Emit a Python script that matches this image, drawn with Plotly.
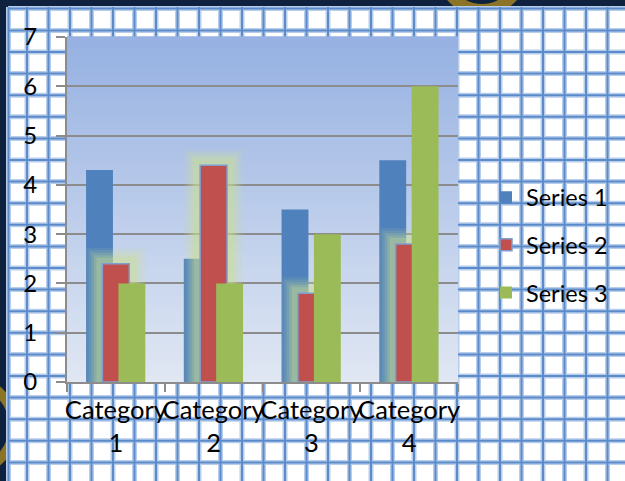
import plotly.graph_objects as go

# chart data
categories = ["Category<br>1", "Category<br>2", "Category<br>3", "Category<br>4"]
series_names = ["Series 1", "Series 2", "Series 3"]
series1 = [4.3, 2.5, 3.5, 4.5]
series2 = [2.4, 4.4, 1.8, 2.8]
series3 = [2.0, 2.0, 3.0, 6.0]
y_ticks = [0, 1, 2, 3, 4, 5, 6, 7]

W, H = 625, 481
ML, MR, MT, MB = 67, 167, 37, 99
PW, PH = W - ML - MR, H - MT - MB


def px(x):
    return (x - ML) / PW


def py(y):
    return (H - MB - y) / PH


NAVY = "#0e2240"
GOLD = "#8b7426"
FONT = "Lato, Calibri, sans-serif"

fig = go.Figure()

shapes = []
# gold rings peeking out at the border
shapes.append(dict(type="circle", xref="paper", yref="paper",
                   x0=px(442), x1=px(522), y0=py(10), y1=py(-70),
                   line=dict(color=GOLD, width=12), layer="below"))
shapes.append(dict(type="circle", xref="paper", yref="paper",
                   x0=px(-80), x1=px(14), y0=py(472), y1=py(380),
                   line=dict(color=GOLD, width=10), layer="below"))
# grid paper
shapes.append(dict(type="rect", xref="paper", yref="paper",
                   x0=px(8), x1=px(W + 5), y0=py(7), y1=py(H + 5),
                   fillcolor="white", line=dict(width=0), layer="below"))
vx = [8.5] + [27 + 21.5 * k for k in range(28)]
hy = [8.5] + [30.4 + 21.6 * k for k in range(22)]
for color, width in [("#b8cdea", 5), ("#5b8bca", 2)]:
    for x in vx:
        shapes.append(dict(type="line", xref="paper", yref="paper",
                           x0=px(x), x1=px(x), y0=py(7), y1=py(H + 5),
                           line=dict(color=color, width=width), layer="below"))
    for y in hy:
        shapes.append(dict(type="line", xref="paper", yref="paper",
                           x0=px(8), x1=px(W + 5), y0=py(y), y1=py(y),
                           line=dict(color=color, width=width), layer="below"))

# plot area gradient
top_c = (150, 177, 226)
bot_c = (224, 231, 243)
N = 60
for i in range(N):
    t = i / (N - 1)
    c = tuple(round(bot_c[k] + (top_c[k] - bot_c[k]) * t) for k in range(3))
    shapes.append(dict(type="rect", xref="paper", yref="paper",
                       x0=0, x1=1, y0=i / N, y1=(i + 1) / N + 0.002,
                       fillcolor="rgb(%d,%d,%d)" % c, line=dict(width=0), layer="below"))

BW = 0.275
fig.add_trace(go.Bar(x=categories, y=series1, name=series_names[0], legendgroup="s1",
                     offset=-0.305, width=BW, marker=dict(color="#4f81bd", line=dict(width=0))))
# soft glow behind series 2
for lw, a in [(32, 0.1), (27, 0.12), (22, 0.15), (17, 0.2), (12, 0.25)]:
    fig.add_trace(go.Bar(x=categories, y=series2, showlegend=False, hoverinfo="skip",
                         offset=-0.138, width=BW,
                         marker=dict(color="rgba(0,0,0,0)",
                                     line=dict(width=lw, color="rgba(205,225,145,%s)" % a))))
fig.add_trace(go.Bar(x=categories, y=series2, name=series_names[1], legendgroup="s2",
                     offset=-0.138, width=BW,
                     marker=dict(color="#c0504d", line=dict(width=1.5, color="#7f9dd0"))))
fig.add_trace(go.Bar(x=categories, y=series3, name=series_names[2], legendgroup="s3",
                     offset=0.026, width=BW, marker=dict(color="#9bbb59", line=dict(width=0))))

fig.update_layout(
    width=W, height=H,
    margin=dict(l=ML, r=MR, t=MT, b=MB, autoexpand=False),
    paper_bgcolor=NAVY,
    plot_bgcolor="rgba(0,0,0,0)",
    barmode="overlay",
    shapes=shapes,
    font=dict(family=FONT, size=24, color="black"),
    showlegend=True,
    legend=dict(x=px(486), y=py(245), xanchor="left", yanchor="middle",
                bgcolor="rgba(0,0,0,0)", font=dict(size=23.5, family=FONT),
                tracegroupgap=14, itemclick=False),
    xaxis=dict(showgrid=False, showline=True, linecolor="#8c8c8c", linewidth=2,
               ticks="outside", ticklen=8, tickwidth=2, tickcolor="#8c8c8c",
               tickson="boundaries", tickangle=0, automargin=False,
               ticklabelstandoff=4, tickfont=dict(size=25.5, family=FONT)),
    yaxis=dict(range=[0, 7], tickvals=y_ticks, showgrid=True, gridcolor="#8c8c8c",
               gridwidth=2, showline=True, linecolor="#8c8c8c", linewidth=2,
               ticks="outside", ticklen=9, tickwidth=2, tickcolor="#8c8c8c",
               ticklabelstandoff=14, zeroline=False, automargin=False,
               tickfont=dict(size=24, family=FONT)),
)

fig.write_html("out.html", config={"displayModeBar": False},
               post_script="document.body.style.margin='0';document.body.style.background='%s';" % NAVY)
